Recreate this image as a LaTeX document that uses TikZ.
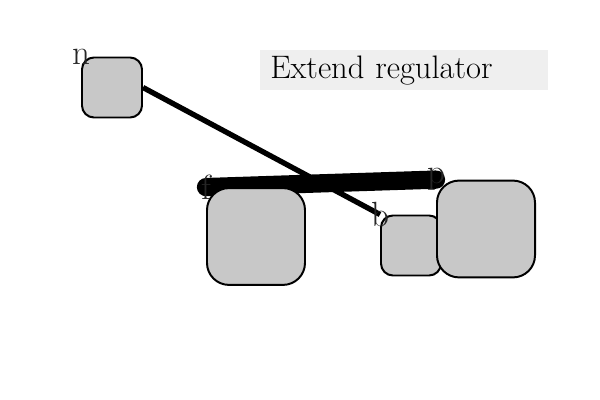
\documentclass[tikz,border=0pt]{standalone}
\usepackage{tikz}
\usetikzlibrary{positioning, backgrounds}

\definecolor{boxgray}{RGB}{200,200,200}
\definecolor{titlegray}{RGB}{239,239,239}

\begin{document}
\begin{tikzpicture}[x=0.025cm,y=-0.025cm,-,
                    box node/.style={rounded corners=0.3cm,draw,line width=1.4pt,fill=boxgray,
                                     minimum width=1.5cm,minimum height=1.5cm,inner sep=0pt},
                    big node/.style={box node,rounded corners=0.55cm,minimum width=2.45cm,minimum height=2.42cm},
                    tag/.style={font=\Huge,text=black!85,inner sep=0pt},
                    title/.style={fill=titlegray,text width=6.7cm,inner xsep=0.25cm,inner ysep=0pt,
                                  minimum height=1cm,align=left,font=\Huge}]
  \useasboundingbox (0,0) rectangle (600,400);

  \node[box node] (1) at (112,87.5) {};
  \node[big node] (2) at (256,236.5) {};
  \node[box node] (3) at (411,245.5) {};
  \node[big node] (4) at (486,229) {};

  \begin{scope}[on background layer]
    \draw[line width=3.8pt] (1.east) -- (3.north west);
    \draw[line width=13pt,line cap=round] (2.north west) -- (4.north west);
  \end{scope}

  \node[tag] (n) at (1.north west) {n};
  \node[tag] (f) at (2.north west) {f};
  \node[tag] (b) at (3.north west) {b};
  \node[tag] (p) at (4.north west) {p};

  \node[title,anchor=north west] (head) at (260,50) {\scalebox{0.93}{Extend regulator}};
\end{tikzpicture}
\end{document}
